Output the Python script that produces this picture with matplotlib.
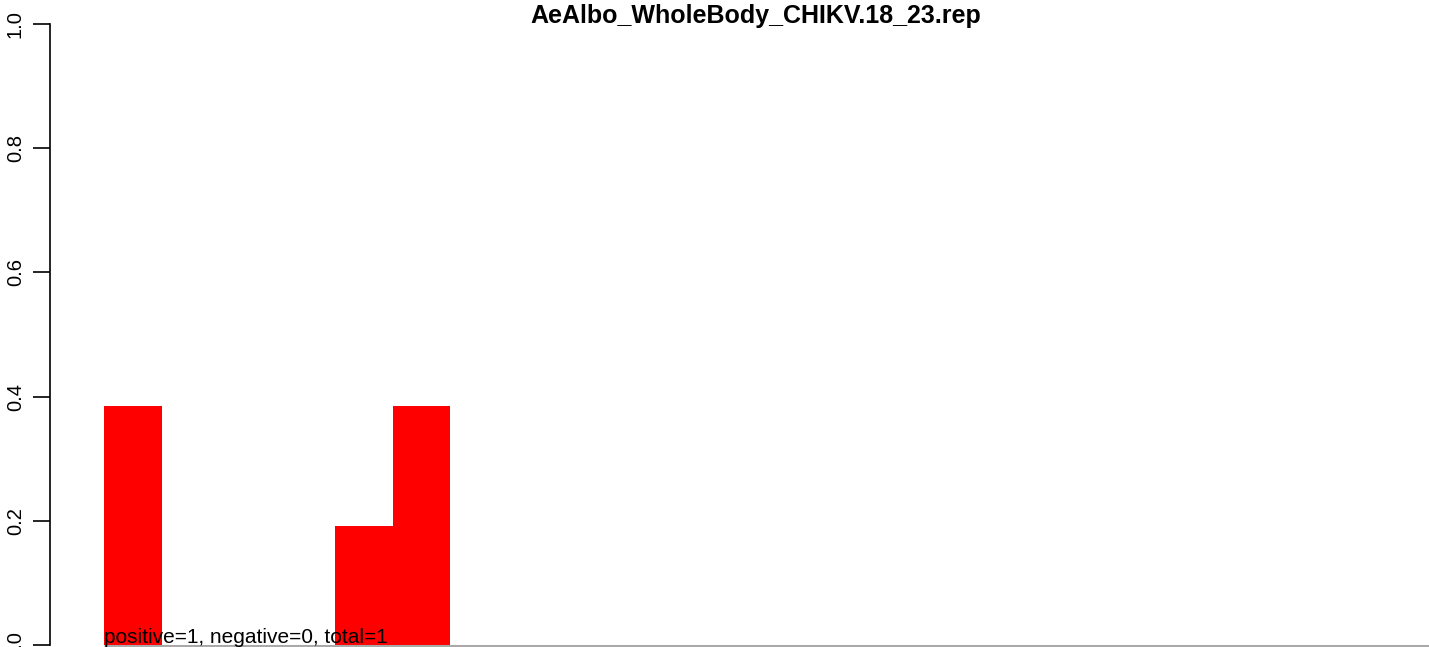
import matplotlib.pyplot as plt
import numpy as np

plt.rcParams['font.family'] = ['Liberation Sans', 'DejaVu Sans']

# datos
titulo = "AeAlbo_WholeBody_CHIKV.18_23.rep"
bins = np.arange(23)
valores = [0.385, 0, 0, 0, 0.192, 0.385] + [0] * 17
etiqueta = "positive=1, negative=0, total=1"
yticks = [0.0, 0.2, 0.4, 0.6, 0.8, 1.0]

W, H = 1429, 647
fig = plt.figure(figsize=(W / 100, H / 100), dpi=100)

# region del grafico (se sale por la derecha como en el original)
izq, der, arriba, abajo = 50, 1462, 24, 645
ax = fig.add_axes([izq / W, (H - abajo) / H, (der - izq) / W, (abajo - arriba) / H])
ax.patch.set_alpha(0)

ancho_px = 57.7
x0_px = 104
ax.set_xlim(-(x0_px - izq) / ancho_px, (der - x0_px) / ancho_px)
ax.set_ylim(0, 1)

ax.bar(bins, valores, width=1.0, align='edge', color='red', edgecolor='none')
ax.plot([0, ax.get_xlim()[1]], [-0.002, -0.002], color='#a9a9a9', lw=2.2,
        solid_capstyle='butt', clip_on=False)

ax.text(0, 0.003, etiqueta, ha='left', va='baseline', fontsize=15)

for s in ['top', 'right', 'bottom']:
    ax.spines[s].set_visible(False)
ax.spines['left'].set_linewidth(1.2)
ax.set_xticks([])
ax.set_yticks(yticks)
ax.set_yticklabels([f"{t:.1f}" for t in yticks], rotation=90, va='center', fontsize=14.5)
ax.tick_params(axis='y', length=12, width=1.2, pad=6)

fig.text((izq + der) / 2 / W, 1 - 16 / H, titulo, ha='center', va='center',
         fontsize=18, fontweight='bold')

fig.savefig('out.png', dpi=100)
